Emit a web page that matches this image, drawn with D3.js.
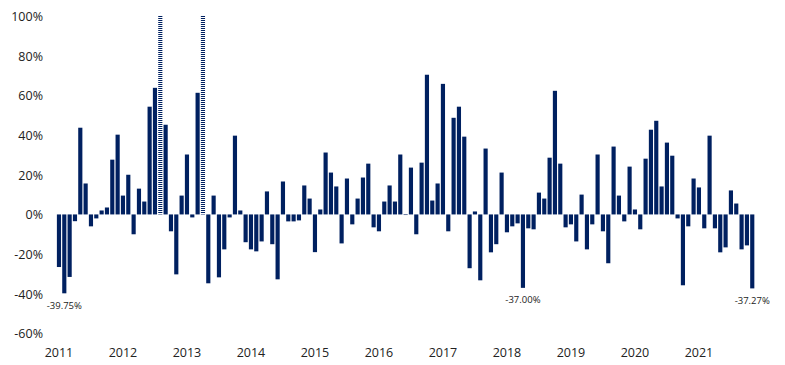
<!DOCTYPE html>
<html>
<head>
<meta charset="utf-8">
<script src="https://cdn.jsdelivr.net/npm/d3@7"></script>
<style>
  body { margin: 0; background: #ffffff; }
  text { font-family: "Open Sans", "Noto Sans", sans-serif; fill: #222222; }
</style>
</head>
<body>
<svg id="canvas"></svg>
<script>
// Year tick labels (one per January).
var years = ['2011', '2012', '2013', '2014', '2015', '2016', '2017', '2018', '2019', '2020', '2021'];

// Monthly returns in %, Jan 2011 to Nov 2021.
var values = [
  -26.5, -39.75, -31.5, -3.4, 43.7, 15.6, -6, -2, 2, 3.5, 27.6, 40.2,
  9.5, 20, -10, 13, 6.5, 54.3, 63.8, 100, 45.2, -8.5, -30.2, 9.5,
  30.2, -1.5, 61.3, 100, -34.7, 9.5, -31.7, -17.6, -1.5, 39.7, 2, -14,
  -17.6, -18.6, -13.6, 11.6, -15, -32.7, 16.6, -3.5, -3.5, -3, 14.6, 8,
  -19, 2.5, 31.2, 21.1, 14.1, -14.6, 18.1, -5, 8, 18.6, 25.6, -6.5,
  -8.5, 6.5, 14.6, 6.5, 30.2, -0.3, 23.6, -10, 26.1, 70.4, 7, 15.6,
  65.8, -8.5, 48.7, 54.3, 39.2, -27.1, 1.5, -33.2, 33.2, -19.1, -15, 21.1,
  -9, -6, -4.5, -37.0, -7, -7.5, 11, 8, 28.6, 62.3, 25.6, -6.5,
  -5, -13.6, 10, -17.6, -5, 30.2, -8.5, -24.6, 34.2, 9.5, -3.5, 24.1,
  2.5, -7.5, 28.1, 42.7, 47.2, 14.1, 36.2, 29.6, -2, -35.7, -6, 18.1,
  13.6, -7, 39.7, -7, -19.1, -16.6, 12.1, 5.5, -17.6, -15.6, -37.27
];

// Months whose value runs off the top of the scale (drawn hatched).
var offScale = ['2012-08', '2013-04'];

// Months with a labelled value.
var labelled = ['2011-02', '2018-04', '2021-11'];

// Build month categories.
var months = [];
for (var i = 0; i < values.length; i++) {
  var y = 2011 + Math.floor(i / 12);
  var m = (i % 12) + 1;
  months.push(y + '-' + (m < 10 ? '0' + m : m));
}

var data = months.map(function(d, i) { return {month: d, value: values[i]}; });

// Canvas dimensions.
var canvasWidth = 785;
var canvasHeight = 365;
var navy = '#002060';

var svg = d3.select('#canvas')
            .attr('width', canvasWidth)
            .attr('height', canvasHeight);

// Horizontal stripe pattern for the off-scale bars.
var pattern = svg.append('defs').append('pattern')
                 .attr('id', 'stripes')
                 .attr('patternUnits', 'userSpaceOnUse')
                 .attr('width', 8)
                 .attr('height', 2);
pattern.append('rect').attr('width', 8).attr('height', 1).attr('fill', navy);

// Scales.
var xScale = d3.scaleBand()
               .domain(months)
               .range([56.3, 56.3 + months.length * 5.333])
               .paddingInner(0.22)
               .paddingOuter(0.11);

var yScale = d3.scaleLinear()
               .domain([-60, 100])
               .range([333.5, 16]);

// Vertical axis labels.
var yAxis = d3.axisLeft(yScale)
              .tickValues(d3.range(-60, 101, 20))
              .tickSize(0)
              .tickPadding(0)
              .tickFormat(function(d) { return d + '%'; });
var gy = svg.append('g')
            .attr('transform', 'translate(43,0)')
            .call(yAxis);
gy.select('.domain').remove();
gy.selectAll('text').style('font-size', '12.5px').attr('dy', '0.35em');

// Horizontal axis labels, one per year.
var xAxis = d3.axisBottom(xScale)
              .tickValues(months.filter(function(d) { return d.slice(5) == '01'; }))
              .tickSize(0)
              .tickPadding(0)
              .tickFormat(function(d) { return d.slice(0, 4); });
var gx = svg.append('g')
            .attr('transform', 'translate(0,353)')
            .call(xAxis);
gx.select('.domain').remove();
gx.selectAll('text').style('font-size', '12.5px').attr('dy', '0.35em');

// Bars.
svg.selectAll('rect.bar')
   .data(data)
   .enter()
   .append('rect')
   .attr('class', 'bar')
   .attr('x', function(d) { return xScale(d.month); })
   .attr('width', xScale.bandwidth())
   .attr('y', function(d) { return yScale(Math.max(0, Math.min(100, d.value))); })
   .attr('height', function(d) {
     return Math.abs(yScale(Math.min(100, d.value)) - yScale(0));
   })
   .attr('fill', function(d) {
     return offScale.indexOf(d.month) == -1 ? navy : 'url(#stripes)';
   });

// Value labels under the lowest bars.
svg.selectAll('text.note')
   .data(data.filter(function(d) { return labelled.indexOf(d.month) != -1; }))
   .enter()
   .append('text')
   .attr('class', 'note')
   .attr('x', function(d) { return xScale(d.month) + xScale.bandwidth() / 2; })
   .attr('y', function(d) { return yScale(d.value) + 12; })
   .attr('dy', '0.35em')
   .attr('text-anchor', 'middle')
   .style('font-size', '9.5px')
   .text(function(d) { return d.value.toFixed(2) + '%'; });
</script>
</body>
</html>
